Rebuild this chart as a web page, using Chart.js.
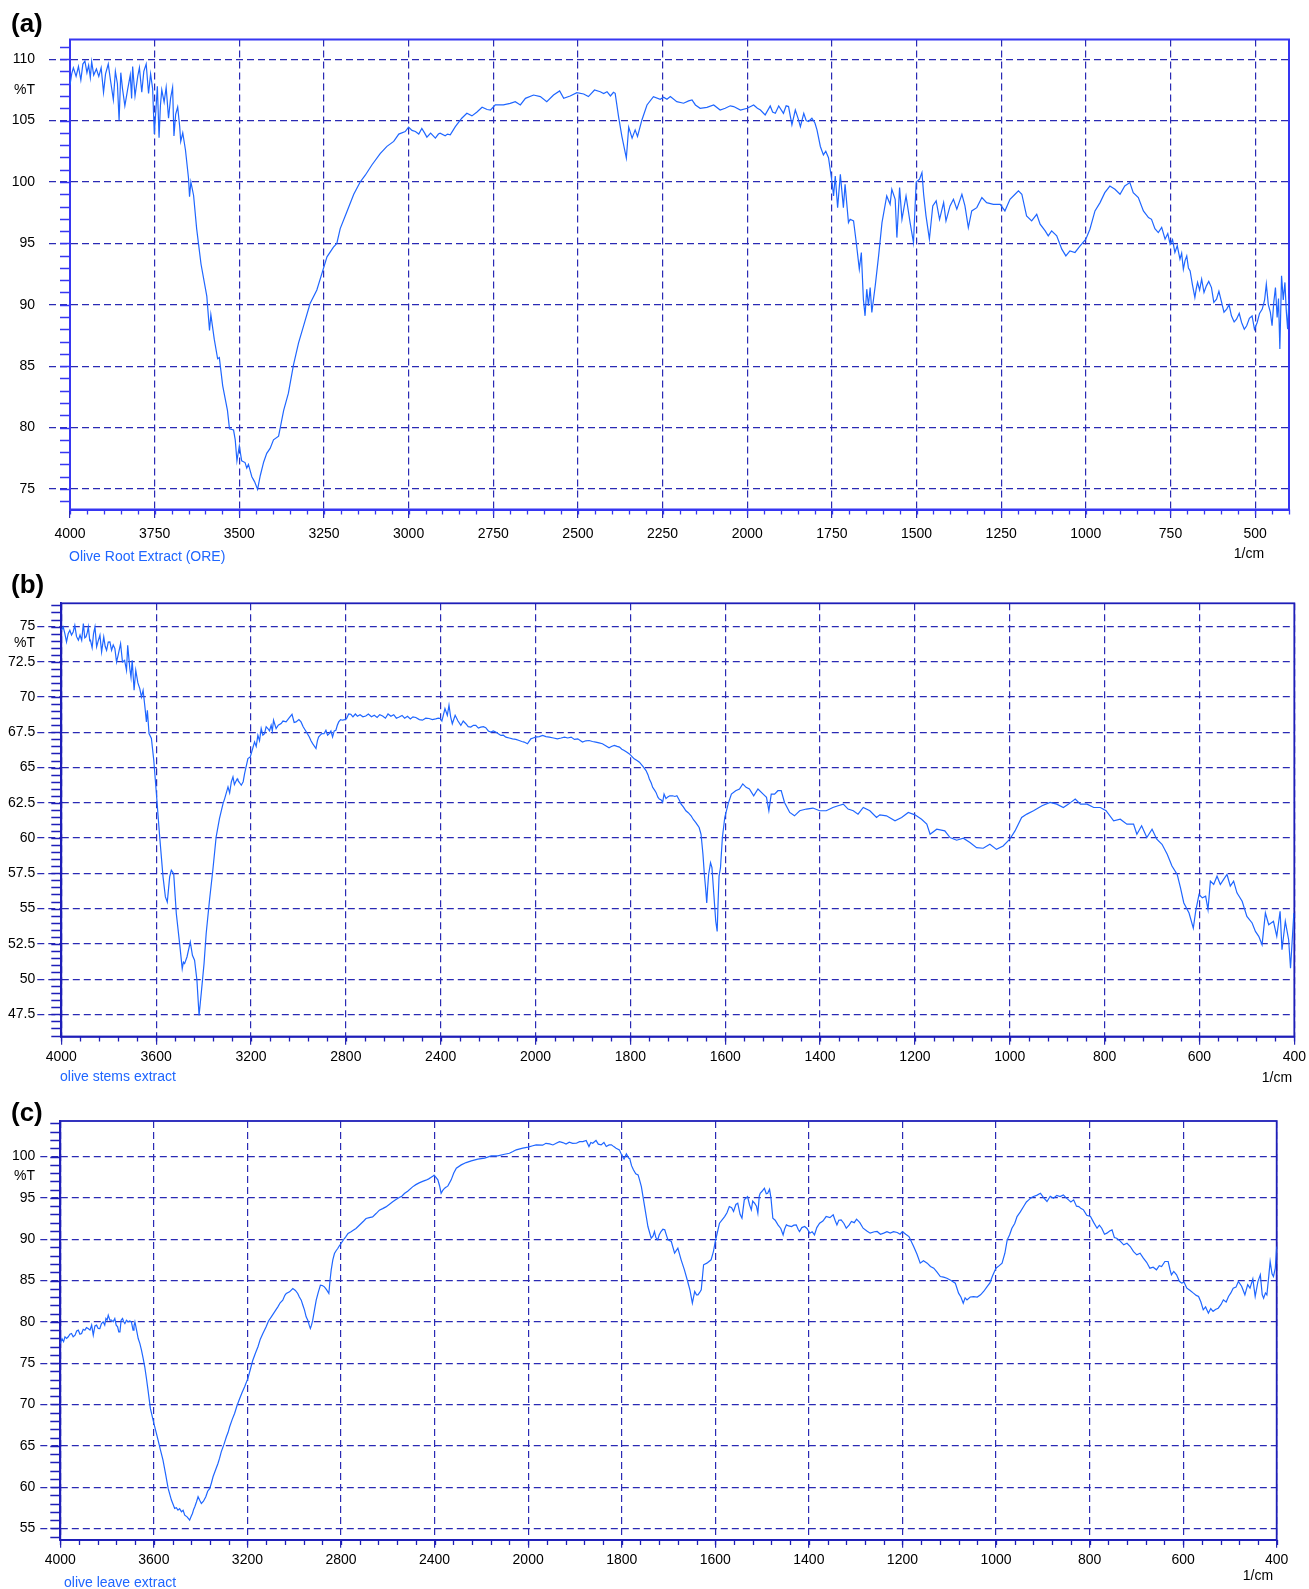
<!DOCTYPE html>
<html>
<head>
<meta charset="utf-8">
<title>FTIR spectra of olive extracts</title>
<script src="https://cdn.jsdelivr.net/npm/chart.js@4.4.1/dist/chart.umd.min.js"></script>
<style>
  html, body { margin: 0; padding: 0; background: #fff; }
  body { position: relative; width: 1309px; height: 1589px; overflow: hidden;
         font-family: "Liberation Sans", Arial, Helvetica, sans-serif; }
  canvas { position: absolute; left: 0; }
  .lbl { position: absolute; line-height: 1; white-space: nowrap; font-size: 14px; color: #000; }
  .panel { font-weight: bold; font-size: 26px; }
  .caption { color: #1f66ff; }
  .unit { transform: translateX(-50%); }
  .yunit { width: 40px; text-align: right; }
</style>
</head>
<body>
<canvas id="chartA" width="1309" height="565" style="top:0px"></canvas>
<canvas id="chartB" width="1309" height="520" style="top:565px"></canvas>
<canvas id="chartC" width="1309" height="504" style="top:1085px"></canvas>

<div class="lbl panel" style="left:11px;top:10px">(a)</div>
<div class="lbl yunit" style="left:-5px;top:82px">%T</div>
<div class="lbl caption" style="left:69px;top:549px">Olive Root Extract (ORE)</div>
<div class="lbl unit" style="left:1249px;top:546px">1/cm</div>

<div class="lbl panel" style="left:11px;top:571px">(b)</div>
<div class="lbl yunit" style="left:-5px;top:635px">%T</div>
<div class="lbl caption" style="left:60px;top:1069px">olive stems extract</div>
<div class="lbl unit" style="left:1277px;top:1070px">1/cm</div>

<div class="lbl panel" style="left:11px;top:1099px">(c)</div>
<div class="lbl yunit" style="left:-5px;top:1168px">%T</div>
<div class="lbl caption" style="left:64px;top:1575px">olive leave extract</div>
<div class="lbl unit" style="left:1258px;top:1568px">1/cm</div>

<script>
// ---------- tick labels ----------
const X_TICKS_A = [4000, 3750, 3500, 3250, 3000, 2750, 2500, 2250, 2000, 1750, 1500, 1250, 1000, 750, 500];
const X_TICKS_BC = [4000, 3600, 3200, 2800, 2400, 2000, 1800, 1600, 1400, 1200, 1000, 800, 600, 400];
const Y_TICKS_A = [75, 80, 85, 90, 95, 100, 105, 110];
const Y_TICKS_B = [47.5, 50, 52.5, 55, 57.5, 60, 62.5, 65, 67.5, 70, 72.5, 75];
const Y_TICKS_C = [55, 60, 65, 70, 75, 80, 85, 90, 95, 100];

// ---------- spectra: [wavenumber (1/cm), %T] ----------
const ROOT_SPECTRUM = [
[4000,107.9],[3995,108.8],[3990,109.3],[3982,108.6],[3975,109.4],[3968,108.3],[3962,109.6],[3956,109.85],[3950,108.9],[3945,109.5],
[3940,108.5],[3936,109.8],[3930,108.7],[3922,109.2],[3915,108.6],[3908,109.3],[3901,107.3],[3895,108.8],[3887,109.6],[3880,108.2],
[3872,106.7],[3866,109.0],[3860,108.0],[3855,105.0],[3850,108.9],[3845,107.6],[3838,106.2],[3830,107.5],[3822,108.7],[3818,106.8],
[3815,109.4],[3808,107.0],[3800,108.6],[3795,109.3],[3788,107.3],[3782,109.0],[3775,109.6],[3768,107.2],[3762,108.8],[3756,107.6],
[3751,103.9],[3746,106.0],[3742,107.8],[3737,103.6],[3733,106.2],[3729,107.5],[3722,106.5],[3716,107.7],[3709,105.2],[3703,106.8],
[3697,107.7],[3693,103.75],[3688,105.5],[3682,106.1],[3676,104.5],[3673,103.3],[3667,104.0],[3659,102.6],[3650,100.3],[3647,98.8],
[3643,100.0],[3635,98.9],[3626,96.2],[3613,93.3],[3596,90.7],[3588,87.9],[3584,89.2],[3574,87.2],[3564,85.6],[3559,85.7],
[3549,83.4],[3535,81.4],[3529,79.9],[3517,79.8],[3512,79.0],[3507,77.3],[3500,78.5],[3493,77.3],[3483,77.15],[3478,76.7],
[3473,77.0],[3463,76.0],[3455,75.6],[3446,74.97],[3438,76.1],[3428,77.2],[3419,77.9],[3409,78.3],[3399,79.0],[3384,79.3],
[3369,81.4],[3355,82.8],[3340,85.1],[3325,86.9],[3310,88.3],[3291,90.1],[3271,91.2],[3251,93.0],[3241,93.9],[3222,94.7],
[3212,95.0],[3202,96.2],[3182,97.6],[3162,99.0],[3143,100.0],[3128,100.55],[3108,101.4],[3084,102.3],[3064,102.9],[3044,103.3],
[3029,103.9],[3010,104.1],[3000,104.46],[2990,104.2],[2980,104.11],[2970,103.9],[2961,104.35],[2953,104.0],[2946,103.65],[2935,103.97],
[2921,103.57],[2912,103.9],[2907,103.97],[2892,103.76],[2885,103.9],[2877,103.84],[2862,104.51],[2843,105.19],[2828,105.59],[2813,105.38],
[2798,105.7],[2783,106.08],[2768,105.9],[2758,105.86],[2744,106.27],[2720,106.27],[2700,106.4],[2685,106.54],[2670,106.27],[2655,106.81],
[2631,107.08],[2611,106.95],[2592,106.54],[2572,107.08],[2554,107.41],[2542,106.81],[2523,107.0],[2503,107.27],[2483,107.16],[2469,106.95],
[2451,107.49],[2434,107.35],[2424,107.2],[2414,107.35],[2404,107.0],[2395,107.3],[2390,107.22],[2380,105.32],[2370,103.7],[2357,101.95],
[2350,104.46],[2340,103.57],[2331,104.24],[2324,103.7],[2311,105.05],[2296,106.27],[2277,106.95],[2257,106.73],[2247,106.9],[2237,106.73],
[2227,106.95],[2208,106.54],[2188,106.41],[2173,106.6],[2163,106.68],[2153,106.27],[2139,106.0],[2119,106.08],[2099,106.27],[2080,105.86],
[2065,106.0],[2050,106.2],[2040,106.14],[2020,105.86],[2000,106.0],[1981,106.27],[1970,106.0],[1961,105.86],[1947,105.46],[1932,106.19],
[1925,105.7],[1917,105.59],[1907,106.19],[1893,105.59],[1885,106.2],[1878,106.14],[1868,104.65],[1858,105.86],[1850,105.2],[1843,104.51],
[1833,105.59],[1826,105.0],[1819,104.92],[1809,105.19],[1800,104.8],[1794,104.24],[1784,102.89],[1775,102.2],[1768,102.5],[1760,101.98],
[1750,100.08],[1745,98.86],[1740,100.49],[1733,97.91],[1725,100.62],[1716,97.91],[1711,99.8],[1701,96.69],[1696,96.96],[1686,96.83],
[1678,95.07],[1669,92.9],[1663,94.25],[1657,90.46],[1652,89.1],[1647,91.27],[1642,89.92],[1637,91.4],[1632,89.38],[1622,91.54],
[1612,93.98],[1602,96.69],[1588,98.86],[1578,98.18],[1573,99.4],[1563,98.59],[1558,95.47],[1550,99.54],[1543,96.96],[1531,98.86],
[1519,96.69],[1509,95.07],[1501,100.0],[1491,100.22],[1484,100.76],[1479,99.0],[1472,97.24],[1462,95.34],[1452,98.05],[1442,98.46],
[1432,96.96],[1420,98.32],[1413,96.83],[1401,98.05],[1391,98.59],[1381,97.78],[1366,99.0],[1357,98.05],[1347,96.29],[1337,97.64],
[1322,97.91],[1307,98.73],[1293,98.32],[1273,98.18],[1253,98.18],[1239,97.64],[1224,98.59],[1209,99.0],[1199,99.27],[1189,99.0],
[1175,97.24],[1160,96.83],[1145,97.37],[1135,96.56],[1120,96.02],[1111,95.61],[1101,96.02],[1086,95.61],[1071,94.53],[1059,93.98],
[1047,94.39],[1032,94.26],[1017,94.8],[1000,95.34],[988,96.15],[973,97.64],[958,98.32],[944,99.13],[929,99.67],[914,99.4],
[899,99.0],[885,99.67],[870,99.95],[860,99.13],[845,98.73],[830,97.64],[815,97.1],[806,96.96],[796,96.2],[786,95.88],
[776,96.3],[766,95.34],[758,95.8],[751,94.93],[744,95.3],[737,94.26],[730,94.8],[722,93.71],[717,94.2],[712,92.9],
[707,93.6],[702,93.98],[697,93.0],[692,92.76],[685,91.6],[678,90.6],[674,91.3],[670,91.82],[664,91.2],[658,92.09],
[651,91.0],[644,91.54],[637,91.9],[629,91.4],[622,90.2],[614,90.46],[607,91.1],[599,90.19],[592,89.4],[584,89.65],
[577,90.0],[570,89.1],[562,88.6],[555,88.83],[547,89.3],[540,88.56],[532,88.0],[525,88.29],[517,88.9],[509,89.1],
[502,88.0],[494,88.56],[487,89.3],[479,89.65],[472,90.4],[467,91.68],[461,90.0],[455,89.38],[450,88.29],[445,90.2],
[440,91.4],[435,88.96],[431,90.5],[427,86.4],[422,92.36],[417,90.4],[412,91.82],[408,89.5],[404,88.02],[400,90.5]
];

const STEMS_SPECTRUM = [
[4000,74.74],[3992,74.98],[3985,74.5],[3978,73.91],[3971,74.5],[3964,74.74],[3957,74.4],[3950,74.62],[3943,75.09],[3936,74.3],
[3928,74.03],[3921,74.4],[3914,74.03],[3907,75.21],[3901,74.2],[3896,74.27],[3890,74.6],[3886,74.98],[3880,74.0],[3877,74.03],
[3870,73.5],[3864,74.5],[3858,74.98],[3851,73.56],[3844,74.0],[3837,74.39],[3830,73.2],[3821,74.27],[3815,73.6],[3809,73.32],
[3802,73.9],[3795,73.91],[3788,73.32],[3781,73.7],[3774,73.44],[3767,72.49],[3760,73.0],[3750,73.79],[3742,72.49],[3733,72.6],
[3725,71.9],[3720,73.68],[3711,72.02],[3706,71.4],[3701,72.61],[3693,70.48],[3686,71.9],[3677,71.0],[3669,70.6],[3662,70.01],
[3655,70.48],[3648,69.4],[3641,68.24],[3637,69.07],[3630,67.41],[3620,67.06],[3610,65.52],[3599,63.16],[3585,60.08],[3571,57.25],
[3561,55.83],[3553,55.47],[3543,57.25],[3536,57.72],[3526,57.48],[3515,54.65],[3501,52.52],[3490,50.74],[3485,51.2],[3480,51.1],
[3470,51.57],[3456,52.64],[3447,51.69],[3438,51.34],[3428,49.92],[3419,47.43],[3410,48.97],[3398,51.1],[3389,53.23],[3375,55.59],
[3361,57.72],[3347,60.08],[3333,61.38],[3318,62.45],[3311,62.8],[3297,63.63],[3290,63.2],[3283,63.98],[3276,64.34],[3270,63.8],
[3265,63.98],[3258,64.2],[3255,64.1],[3241,63.75],[3233,64.0],[3227,64.57],[3213,65.64],[3203,65.76],[3195,66.23],[3185,66.82],
[3178,66.5],[3171,67.29],[3164,66.9],[3157,67.77],[3150,67.3],[3143,67.41],[3136,67.9],[3129,67.77],[3122,67.6],[3115,68.0],
[3110,67.6],[3105,68.36],[3094,67.77],[3085,68.0],[3073,68.12],[3065,68.3],[3052,68.24],[3040,68.5],[3027,68.78],[3018,68.2],
[3010,68.24],[2998,68.4],[2989,68.24],[2980,67.9],[2971,67.65],[2962,67.4],[2954,67.17],[2947,66.9],[2940,66.7],[2926,66.35],
[2920,66.9],[2915,67.17],[2908,67.3],[2901,67.41],[2892,67.4],[2884,67.65],[2877,67.3],[2870,67.41],[2863,67.6],[2856,67.17],
[2849,67.6],[2842,67.65],[2836,68.0],[2830,68.24],[2822,68.4],[2814,68.36],[2805,68.4],[2797,68.48],[2788,68.8],[2779,68.78],
[2770,68.6],[2760,68.8],[2751,68.64],[2740,68.75],[2728,68.6],[2716,68.66],[2705,68.8],[2692,68.6],[2680,68.71],[2668,68.55],
[2657,68.75],[2645,68.66],[2633,68.5],[2622,68.8],[2610,68.64],[2598,68.75],[2587,68.5],[2575,68.59],[2563,68.7],[2552,68.5],
[2540,68.64],[2528,68.45],[2517,68.6],[2505,68.55],[2490,68.4],[2477,68.36],[2463,68.5],[2449,68.48],[2435,68.4],[2421,68.45],
[2410,68.5],[2402,68.48],[2395,68.3],[2382,69.18],[2372,68.71],[2365,69.42],[2358,68.6],[2351,68.11],[2339,68.71],[2327,68.3],
[2315,67.99],[2305,68.3],[2294,68.11],[2284,67.9],[2273,67.87],[2262,68.0],[2252,67.99],[2241,67.8],[2231,67.87],[2220,67.9],
[2210,67.83],[2199,67.6],[2189,67.52],[2178,67.6],[2168,67.52],[2157,67.4],[2146,67.28],[2136,67.3],[2125,67.16],[2111,67.1],
[2097,67.04],[2083,67.0],[2069,66.92],[2058,66.85],[2048,66.81],[2034,66.69],[2020,67.04],[2010,67.1],[2000,67.16],[1992,67.2],
[1985,67.28],[1978,67.2],[1971,67.16],[1962,67.1],[1954,67.04],[1946,67.1],[1939,67.16],[1932,67.1],[1925,67.16],[1918,67.0],
[1911,67.04],[1901,66.81],[1894,66.9],[1887,66.92],[1880,66.85],[1873,66.81],[1866,66.75],[1859,66.69],[1852,66.55],[1845,66.4],
[1840,66.5],[1834,66.57],[1828,66.5],[1823,66.45],[1818,66.3],[1813,66.21],[1808,66.1],[1802,65.97],[1797,65.8],[1792,65.62],
[1786,65.5],[1781,65.38],[1774,65.1],[1767,64.79],[1763,64.5],[1760,64.19],[1756,63.9],[1753,63.6],[1749,63.4],[1746,63.24],
[1742,62.9],[1739,62.77],[1735,62.7],[1732,62.53],[1729,63.12],[1725,62.8],[1722,62.89],[1717,63.0],[1711,63.0],[1706,62.95],
[1702,63.0],[1697,62.7],[1693,62.41],[1688,62.2],[1683,61.94],[1678,61.8],[1672,61.58],[1667,61.3],[1662,61.1],[1658,60.9],
[1655,60.75],[1651,60.27],[1647,58.85],[1644,57.42],[1641,56.3],[1639,55.4],[1637,56.5],[1635,57.42],[1631,58.25],[1628,57.9],
[1624,56.0],[1620,54.1],[1617,53.38],[1615,55.52],[1613,57.3],[1610,57.9],[1606,60.04],[1601,61.46],[1594,62.41],[1587,63.12],
[1578,63.36],[1570,63.48],[1563,63.84],[1556,63.6],[1549,63.48],[1540,63.0],[1531,63.48],[1520,63.12],[1513,62.89],[1508,61.94],
[1503,63.12],[1496,63.12],[1489,63.36],[1482,63.36],[1475,62.53],[1464,61.82],[1454,61.58],[1443,61.94],[1429,62.06],[1415,62.13],
[1401,61.94],[1387,61.94],[1373,62.17],[1362,62.29],[1351,62.41],[1341,62.06],[1330,61.94],[1320,61.7],[1309,62.17],[1295,61.94],
[1281,61.46],[1274,61.65],[1260,61.58],[1242,61.22],[1228,61.46],[1214,61.82],[1200,61.65],[1186,61.34],[1175,60.99],[1168,60.27],
[1154,60.63],[1137,60.51],[1126,60.04],[1112,59.85],[1098,59.99],[1084,59.68],[1070,59.32],[1056,59.28],[1042,59.56],[1028,59.2],
[1014,59.44],[1000,59.92],[989,60.51],[975,61.46],[964,61.7],[950,61.94],[932,62.29],[915,62.53],[901,62.41],[887,62.17],
[876,62.41],[862,62.77],[851,62.41],[837,62.41],[823,62.17],[809,62.17],[797,61.94],[781,61.22],[767,61.34],[753,60.99],
[739,60.99],[732,60.27],[722,60.87],[711,60.04],[700,60.63],[690,59.92],[679,59.56],[668,58.85],[658,58.02],[647,57.42],
[640,56.47],[633,55.4],[622,54.69],[613,53.62],[608,54.81],[601,56.0],[594,55.76],[587,55.88],[582,54.93],[577,56.95],
[570,56.71],[563,57.3],[556,56.71],[549,57.07],[542,57.42],[535,56.59],[528,56.95],[521,56.12],[510,55.52],[500,54.45],
[489,53.98],[482,53.38],[475,53.03],[468,52.43],[461,54.69],[454,53.86],[444,54.1],[437,53.03],[430,54.81],[426,52.08],
[419,54.1],[412,52.79],[408,50.77],[401,54.69],[400,54.4]
];

const LEAVES_SPECTRUM = [
[4000,77.38],[3993,77.98],[3986,77.6],[3980,78.19],[3973,78.0],[3966,78.19],[3959,78.5],[3952,78.59],[3945,78.2],[3937,78.39],
[3930,78.9],[3923,78.99],[3916,78.5],[3909,78.59],[3902,79.1],[3895,78.99],[3888,79.3],[3881,79.19],[3873,79.0],[3866,79.6],
[3859,78.39],[3852,79.5],[3845,79.6],[3838,79.2],[3831,79.19],[3824,79.8],[3817,80.0],[3810,79.6],[3805,80.4],[3800,80.2],
[3795,80.81],[3788,80.2],[3781,80.2],[3774,80.0],[3767,80.4],[3761,79.6],[3755,79.4],[3750,78.79],[3745,78.79],[3740,80.2],
[3734,80.4],[3729,80.0],[3724,79.8],[3717,80.2],[3710,80.0],[3703,80.1],[3696,80.0],[3689,78.99],[3685,79.5],[3681,80.0],
[3674,79.0],[3667,77.98],[3660,77.4],[3653,76.57],[3646,75.6],[3639,74.56],[3632,73.2],[3625,71.73],[3615,69.52],[3600,67.7],
[3590,66.6],[3582,65.69],[3572,64.5],[3561,63.27],[3550,61.6],[3539,59.84],[3525,58.43],[3511,57.42],[3504,57.5],[3497,57.22],
[3490,57.4],[3482,57.02],[3475,57.2],[3468,56.61],[3458,56.4],[3447,56.01],[3440,56.5],[3435,56.81],[3430,57.3],[3425,57.62],
[3418,58.2],[3411,58.83],[3404,58.4],[3397,58.02],[3388,58.3],[3378,58.83],[3370,59.5],[3361,59.84],[3354,60.5],[3347,61.25],
[3336,62.1],[3326,62.86],[3319,63.5],[3312,64.27],[3300,65.2],[3290,66.09],[3283,66.6],[3276,67.3],[3265,68.2],[3255,68.91],
[3244,69.9],[3233,70.73],[3222,71.5],[3212,72.14],[3198,73.15],[3188,74.2],[3177,75.36],[3166,76.2],[3155,76.98],[3145,77.9],
[3134,78.59],[3120,79.4],[3110,80.1],[3098,80.6],[3084,81.2],[3070,81.81],[3060,82.3],[3049,82.62],[3040,83.2],[3034,83.43],
[3020,83.63],[3006,84.03],[2995,83.8],[2985,83.43],[2978,83.0],[2970,82.62],[2963,82.0],[2956,81.41],[2949,80.6],[2942,80.2],
[2936,79.6],[2931,79.19],[2926,79.6],[2921,80.2],[2913,81.5],[2906,82.62],[2897,83.6],[2888,84.44],[2880,84.4],[2871,84.23],
[2862,83.9],[2852,83.43],[2847,85.0],[2842,86.25],[2835,87.5],[2828,88.27],[2821,88.6],[2814,88.87],[2807,89.2],[2800,89.48],
[2790,89.9],[2780,90.28],[2770,90.7],[2757,90.89],[2746,91.1],[2736,91.29],[2725,91.6],[2714,91.9],[2703,92.2],[2693,92.5],
[2679,92.6],[2665,92.7],[2650,93.1],[2636,93.51],[2622,93.7],[2608,93.91],[2594,94.2],[2579,94.52],[2565,94.8],[2551,95.04],
[2540,95.2],[2529,95.52],[2515,95.8],[2494,96.33],[2480,96.6],[2466,96.81],[2451,97.0],[2437,97.14],[2425,97.3],[2416,97.46],
[2408,97.6],[2402,97.74],[2395,97.5],[2386,97.18],[2379,96.5],[2372,95.56],[2365,95.9],[2357,96.17],[2350,96.3],[2343,96.45],
[2329,97.18],[2318,98.0],[2307,98.59],[2286,98.99],[2265,99.27],[2243,99.48],[2215,99.68],[2186,99.8],[2158,100.08],[2130,100.08],
[2101,100.28],[2080,100.4],[2065,100.6],[2051,100.81],[2023,101.01],[2000,101.13],[1990,101.3],[1983,101.41],[1969,101.37],[1962,101.6],
[1954,101.53],[1947,101.4],[1940,101.61],[1933,101.8],[1926,101.69],[1919,101.5],[1912,101.73],[1905,101.6],[1897,101.61],[1890,101.8],
[1883,101.81],[1876,101.94],[1870,101.21],[1866,101.7],[1862,101.61],[1855,101.94],[1850,101.5],[1844,101.41],[1838,101.7],[1833,101.21],
[1827,101.4],[1822,101.41],[1817,101.2],[1812,101.01],[1805,100.81],[1800,100.2],[1795,99.7],[1790,100.32],[1785,99.8],[1783,99.78],
[1779,98.9],[1775,98.39],[1770,97.9],[1765,97.78],[1762,97.2],[1758,96.37],[1751,93.95],[1744,91.53],[1737,90.12],[1733,90.4],
[1730,90.93],[1727,90.2],[1723,89.92],[1720,90.5],[1716,90.93],[1712,91.2],[1708,91.13],[1704,90.4],[1701,89.92],[1694,89.72],
[1687,88.31],[1680,88.91],[1673,87.5],[1666,86.29],[1659,84.88],[1654,83.8],[1649,82.26],[1644,83.67],[1640,83.27],[1637,83.27],
[1633,83.6],[1630,83.87],[1625,86.9],[1618,87.1],[1609,87.5],[1604,88.5],[1600,89.72],[1591,91.94],[1580,92.74],[1575,93.2],
[1570,93.95],[1565,93.8],[1561,93.35],[1556,94.2],[1552,94.35],[1547,93.0],[1543,92.54],[1538,94.76],[1534,95.0],[1531,95.16],
[1527,94.2],[1523,93.55],[1520,94.6],[1516,94.35],[1512,94.0],[1509,93.15],[1506,95.2],[1504,95.56],[1500,95.8],[1495,96.17],
[1491,95.5],[1488,95.56],[1484,96.05],[1481,95.0],[1477,92.54],[1472,92.3],[1466,91.73],[1460,91.3],[1455,90.52],[1452,91.2],
[1448,91.73],[1443,91.6],[1437,91.53],[1432,91.7],[1427,91.73],[1423,91.2],[1420,90.93],[1415,91.4],[1409,91.53],[1404,91.3],
[1398,90.73],[1393,90.9],[1388,90.52],[1383,91.4],[1377,91.94],[1370,92.2],[1363,92.74],[1355,92.6],[1348,92.94],[1344,92.3],
[1340,91.73],[1336,92.3],[1331,92.34],[1325,91.9],[1320,91.33],[1314,91.7],[1309,92.14],[1303,92.0],[1298,92.42],[1291,92.0],
[1284,91.33],[1276,91.0],[1269,90.73],[1260,90.9],[1254,90.93],[1247,90.6],[1240,90.73],[1233,90.9],[1226,90.73],[1219,90.9],
[1211,90.81],[1205,90.6],[1200,90.93],[1193,90.6],[1186,90.32],[1176,89.11],[1169,88.2],[1162,87.1],[1155,87.4],[1147,87.1],
[1140,86.7],[1133,86.49],[1126,86.0],[1119,85.48],[1112,85.4],[1105,85.28],[1096,85.0],[1087,84.68],[1080,83.47],[1075,83.0],
[1070,82.26],[1066,82.9],[1062,82.66],[1055,83.0],[1048,83.06],[1040,83.0],[1033,83.27],[1026,83.7],[1019,84.27],[1013,84.7],
[1008,85.48],[1004,86.0],[1000,86.49],[993,86.8],[987,87.1],[981,88.3],[976,89.92],[971,90.5],[966,91.33],[960,91.9],
[955,92.74],[948,93.3],[941,93.95],[935,94.5],[930,94.76],[925,95.0],[920,95.16],[913,95.3],[905,95.56],[898,95.0],
[891,94.56],[884,95.2],[877,94.96],[870,95.3],[863,95.16],[856,95.36],[850,95.0],[845,94.76],[840,94.5],[834,94.76],
[828,94.0],[823,93.95],[818,93.7],[813,93.55],[806,92.9],[798,92.74],[791,92.0],[784,91.33],[779,91.7],[774,91.33],
[768,90.6],[763,90.73],[757,91.0],[752,91.13],[747,90.2],[742,90.12],[735,89.8],[727,89.31],[720,89.5],[713,89.11],
[706,88.5],[699,88.1],[692,88.3],[685,87.7],[678,87.2],[671,86.49],[664,86.6],[657,86.29],[651,86.8],[646,86.69],
[639,87.3],[632,87.3],[628,86.3],[625,85.69],[620,86.1],[614,85.69],[608,84.9],[603,84.68],[598,84.8],[592,84.07],
[585,83.8],[578,83.47],[572,83.2],[567,83.06],[562,82.4],[557,81.45],[552,81.8],[546,81.05],[541,81.6],[536,81.25],
[531,81.5],[525,81.65],[519,82.1],[514,82.66],[508,82.4],[503,83.06],[498,83.5],[493,84.07],[487,84.2],[482,84.88],
[475,84.3],[468,83.27],[462,84.5],[457,84.07],[451,85.2],[446,83.06],[440,84.9],[435,85.69],[431,83.3],[428,82.86],
[424,83.5],[421,83.27],[417,85.5],[414,87.3],[410,85.8],[407,85.48],[403,86.5],[400,89.11]
];

// ---------- styling ----------
const LINE_COLOR = '#1f66ff';
const FONT = { family: '"Liberation Sans", Arial, Helvetica, sans-serif', size: 14 };

// Wavenumber axis: each division spans a fixed number of 1/cm per segment,
// so the scale can change pitch at 2000 1/cm like an FTIR chart recorder.
const LinearScale = Chart.LinearScale || Chart.registry.getScale('linear');
class WavenumberScale extends LinearScale {
  _divisions(v) {
    const segs = this.options.segments;
    let d = 0;
    for (let i = 0; i < segs.length; i++) {
      const s = segs[i];
      if (v >= s.lo || i === segs.length - 1) return d + (s.hi - v) / s.per;
      d += (s.hi - s.lo) / s.per;
    }
    return d;
  }
  getPixelForValue(v) {
    const total = this._divisions(this.options.min);
    return this.left + (this.right - this.left) * this._divisions(v) / total;
  }
  getValueForPixel(px) {
    const segs = this.options.segments;
    const total = this._divisions(this.options.min);
    let d = (px - this.left) / (this.right - this.left) * total;
    for (let i = 0; i < segs.length; i++) {
      const s = segs[i];
      const span = (s.hi - s.lo) / s.per;
      if (d <= span || i === segs.length - 1) return s.hi - d * s.per;
      d -= span;
    }
    return this.options.min;
  }
  buildTicks() {
    return this.options.majorTicks.map(value => ({ value }));
  }
}
WavenumberScale.id = 'wavenumber';
WavenumberScale.defaults = {};
Chart.register(WavenumberScale);

function stepsDown(hi, lo, step) {
  const out = [];
  for (let v = hi; v >= lo - 1e-9; v -= step) out.push(+v.toFixed(3));
  return out;
}

// Frame around the plot plus the short minor tick marks on both axes.
function frameAndMinorTicks(cfg) {
  return {
    id: 'frameAndMinorTicks',
    beforeDatasetsDraw(chart) {
      const { ctx, chartArea: a, scales: { x, y } } = chart;
      ctx.save();
      ctx.strokeStyle = cfg.frameColor;
      ctx.lineWidth = 1.3;
      ctx.beginPath();
      cfg.xMinor.forEach(v => {
        const px = Math.round(x.getPixelForValue(v)) + 0.5;
        ctx.moveTo(px, a.bottom);
        ctx.lineTo(px, a.bottom + cfg.xMinorLength);
      });
      cfg.yMinor.forEach(v => {
        const py = Math.round(y.getPixelForValue(v)) + 0.5;
        ctx.moveTo(a.left, py);
        ctx.lineTo(a.left - cfg.yMinorLength, py);
      });
      ctx.stroke();
      ctx.lineWidth = cfg.frameWidth;
      ctx.strokeRect(a.left, a.top, a.right - a.left, a.bottom - a.top);
      ctx.restore();
    }
  };
}

function makeSpectrum(canvasId, cfg) {
  const points = cfg.spectrum.map(([x, y]) => ({ x, y }));
  return new Chart(document.getElementById(canvasId), {
    type: 'line',
    data: {
      datasets: [{
        data: points,
        borderColor: LINE_COLOR,
        borderWidth: 1.2,
        pointRadius: 0,
        fill: false,
        tension: 0
      }]
    },
    options: {
      responsive: false,
      maintainAspectRatio: false,
      animation: false,
      events: [],
      layout: { padding: cfg.padding },
      plugins: { legend: { display: false }, tooltip: { enabled: false }, title: { display: false } },
      scales: {
        x: {
          type: 'wavenumber',
          min: 400,
          max: 4000,
          segments: cfg.segments,
          majorTicks: cfg.xTicks,
          afterFit: s => { s.height = cfg.xAxisHeight; },
          grid: {
            color: cfg.gridColor, lineWidth: 1.2,
            tickColor: cfg.gridColor, tickWidth: 1.2, tickLength: 9,
            tickBorderDash: [7, 4]
          },
          border: { display: true, color: cfg.frameColor, width: cfg.frameWidth, dash: [7, 4] },
          ticks: {
            color: '#000', font: FONT, padding: cfg.xLabelPadding,
            autoSkip: false, maxRotation: 0, minRotation: 0,
            callback: v => String(v)
          }
        },
        y: {
          type: 'linear',
          min: cfg.yMin,
          max: cfg.yMax,
          afterBuildTicks: s => { s.ticks = cfg.yTicks.map(value => ({ value })); },
          afterFit: s => { s.width = cfg.yAxisWidth; },
          grid: {
            color: cfg.gridColor, lineWidth: 1.2,
            tickColor: cfg.gridColor, tickWidth: 1.2, tickLength: cfg.yTickLength,
            tickBorderDash: [7, 4]
          },
          border: { display: true, color: cfg.frameColor, width: cfg.frameWidth, dash: [7, 4] },
          ticks: {
            color: '#000', font: FONT, padding: cfg.yLabelPadding,
            autoSkip: false, callback: v => String(v)
          }
        }
      }
    },
    plugins: [frameAndMinorTicks(cfg)]
  });
}

const SPLIT_SEGMENTS = [{ hi: 4000, lo: 2000, per: 400 }, { hi: 2000, lo: 400, per: 200 }];
const SPLIT_MINOR = stepsDown(4000, 2000, 80).concat(stepsDown(1960, 400, 40));

makeSpectrum('chartA', {
  spectrum: ROOT_SPECTRUM,
  segments: [{ hi: 4000, lo: 400, per: 250 }],
  xTicks: X_TICKS_A, yTicks: Y_TICKS_A,
  yMin: 73.33, yMax: 111.6,
  padding: { left: 0, top: 39.5, right: 20, bottom: 0 },
  yAxisWidth: 70, xAxisHeight: 55.5,
  yTickLength: 21, yLabelPadding: 14, xLabelPadding: 7,
  frameColor: '#3636f2', frameWidth: 2, gridColor: '#2a2ab4',
  xMinor: stepsDown(4000, 400, 50), xMinorLength: 5,
  yMinor: stepsDown(111, 74, 1), yMinorLength: 10
});

makeSpectrum('chartB', {
  spectrum: STEMS_SPECTRUM,
  segments: SPLIT_SEGMENTS,
  xTicks: X_TICKS_BC, yTicks: Y_TICKS_B,
  yMin: 45.93, yMax: 76.65,
  padding: { left: 0, top: 38.3, right: 14, bottom: 0 },
  yAxisWidth: 61.3, xAxisHeight: 48.5,
  yTickLength: 24, yLabelPadding: 2, xLabelPadding: 3,
  frameColor: '#1e1eb8', frameWidth: 1.8, gridColor: '#2a2ab4',
  xMinor: SPLIT_MINOR, xMinorLength: 5,
  yMinor: stepsDown(76.5, 46, 0.5), yMinorLength: 10
});

makeSpectrum('chartC', {
  spectrum: LEAVES_SPECTRUM,
  segments: SPLIT_SEGMENTS,
  xTicks: X_TICKS_BC, yTicks: Y_TICKS_C,
  yMin: 53.6, yMax: 104.3,
  padding: { left: 0, top: 36, right: 32.3, bottom: 0 },
  yAxisWidth: 60.3, xAxisHeight: 49,
  yTickLength: 20, yLabelPadding: 5, xLabelPadding: 3,
  frameColor: '#1e1eb8', frameWidth: 1.8, gridColor: '#2a2ab4',
  xMinor: SPLIT_MINOR, xMinorLength: 5,
  yMinor: stepsDown(104, 54, 1), yMinorLength: 10
});
</script>
</body>
</html>
